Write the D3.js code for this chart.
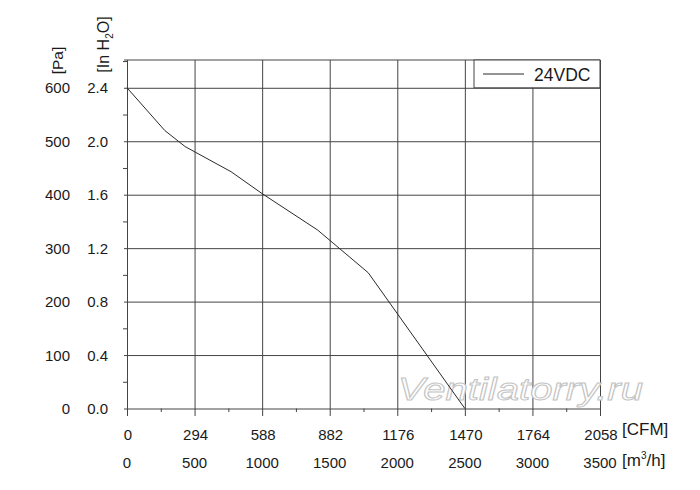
<!DOCTYPE html>
<html>
<head>
<meta charset="utf-8">
<script src="https://cdn.jsdelivr.net/npm/d3@7"></script>
<style>
  body { margin: 0; background: #fff; }
  text { font-family: "Liberation Sans", Arial, sans-serif; fill: #1a1a1a; }
</style>
</head>
<body>
<script>
// Fan curve data (flow in m3/h, static pressure in Pa)
const flow = [0, 280, 430, 770, 1000, 1410, 1785, 2500]
const pressure = [600, 520, 490, 443, 402, 334, 254, 0]
const seriesName = '24VDC'

// Tick labels
const m3hTicks = [0, 500, 1000, 1500, 2000, 2500, 3000, 3500]
const cfmLabels = ['0', '294', '588', '882', '1176', '1470', '1764', '2058']
const paTicks = [0, 100, 200, 300, 400, 500, 600]
const inLabels = ['0.0', '0.4', '0.8', '1.2', '1.6', '2.0', '2.4']

const width = 700
const height = 490
const plotLeft = 127, plotRight = 600, plotTop = 60, plotBottom = 408.5
const yMax = 652

const svg = d3.select('body').append('svg')
  .attr('width', width)
  .attr('height', height)

const x = d3.scaleLinear().domain([0, 3500]).range([plotLeft, plotRight])
const y = d3.scaleLinear().domain([0, yMax]).range([plotBottom, plotTop])

const gridColor = '#444'

// horizontal grid + left ticks
svg.append('g')
  .attr('transform', `translate(${plotLeft},0)`)
  .call(d3.axisLeft(y).tickValues(paTicks).tickSize(-(plotRight - plotLeft)).tickSizeOuter(0).tickFormat(''))
  .call(g => g.select('.domain').remove())
  .call(g => g.selectAll('.tick line').attr('stroke', gridColor).attr('x1', -3))

// minor left ticks
svg.append('g')
  .attr('transform', `translate(${plotLeft},0)`)
  .call(d3.axisLeft(y).tickValues(d3.range(50, 700, 100)).tickSize(4).tickFormat(''))
  .call(g => g.select('.domain').remove())
  .call(g => g.selectAll('.tick line').attr('stroke', gridColor))

// vertical grid + bottom ticks
svg.append('g')
  .attr('transform', `translate(0,${plotBottom})`)
  .call(d3.axisBottom(x).tickValues(m3hTicks).tickSize(-(plotBottom - plotTop)).tickFormat(''))
  .call(g => g.select('.domain').remove())
  .call(g => g.selectAll('.tick line').attr('stroke', gridColor).attr('y1', 7.5))

// minor bottom ticks
svg.append('g')
  .attr('transform', `translate(0,${plotBottom})`)
  .call(d3.axisBottom(x).tickValues(d3.range(250, 3500, 500)).tickSize(3.5).tickFormat(''))
  .call(g => g.select('.domain').remove())
  .call(g => g.selectAll('.tick line').attr('stroke', gridColor))

// frame top line
svg.append('line')
  .attr('x1', plotLeft - 3).attr('x2', plotRight)
  .attr('y1', y(yMax)).attr('y2', y(yMax))
  .attr('stroke', gridColor)

// watermark
svg.append('text')
  .attr('x', 398).attr('y', 400)
  .attr('textLength', 245)
  .attr('lengthAdjust', 'spacingAndGlyphs')
  .style('font-size', '31px')
  .style('font-style', 'italic')
  .style('fill', '#fff')
  .style('stroke', '#c4c4c4')
  .style('stroke-width', 1)
  .text('Ventilatorry.ru')

// curve
const pts = flow.map((f, i) => [f, pressure[i]])
svg.append('path')
  .datum(pts)
  .attr('fill', 'none')
  .attr('stroke', '#2a2a2a')
  .attr('stroke-width', 1)
  .attr('d', d3.line().x(d => x(d[0])).y(d => y(d[1])))

// legend
const lg = svg.append('g')
lg.append('rect')
  .attr('x', 474).attr('y', y(yMax))
  .attr('width', plotRight - 474).attr('height', y(600) - y(yMax))
  .attr('fill', '#fff').attr('stroke', gridColor)
lg.append('line')
  .attr('x1', 483).attr('x2', 524)
  .attr('y1', 74).attr('y2', 74)
  .attr('stroke', '#2a2a2a')
lg.append('text')
  .attr('x', 534).attr('y', 80.5)
  .style('font-size', '17.5px')
  .text(seriesName)

// left labels
svg.append('g').selectAll('text')
  .data(paTicks)
  .join('text')
  .attr('x', 70).attr('y', d => y(d) + 5.5)
  .attr('text-anchor', 'end')
  .style('font-size', '15px')
  .text(d => d)

svg.append('g').selectAll('text')
  .data(paTicks)
  .join('text')
  .attr('x', 108).attr('y', d => y(d) + 5.5)
  .attr('text-anchor', 'end')
  .style('font-size', '15px')
  .text((d, i) => inLabels[i])

// bottom labels
svg.append('g').selectAll('text')
  .data(m3hTicks)
  .join('text')
  .attr('x', d => x(d) + 1).attr('y', 439.5)
  .attr('text-anchor', 'middle')
  .style('font-size', '15px')
  .text((d, i) => cfmLabels[i])

svg.append('g').selectAll('text')
  .data(m3hTicks)
  .join('text')
  .attr('x', d => x(d)).attr('y', 467.5)
  .attr('text-anchor', 'middle')
  .style('font-size', '15px')
  .text(d => d)

// unit labels
svg.append('text')
  .attr('x', 622).attr('y', 435)
  .style('font-size', '17px')
  .text('[CFM]')

const m3 = svg.append('text')
  .attr('x', 622).attr('y', 466)
  .style('font-size', '17px')
m3.append('tspan').text('[m')
m3.append('tspan').attr('dy', -7).style('font-size', '10px').text('3')
m3.append('tspan').attr('dy', 7).text('/h]')

svg.append('text')
  .attr('transform', 'translate(63,60.5) rotate(-90)')
  .attr('text-anchor', 'middle')
  .style('font-size', '15.5px')
  .text('[Pa]')

const inh = svg.append('text')
  .attr('transform', 'translate(109,44.5) rotate(-90)')
  .attr('text-anchor', 'middle')
  .style('font-size', '16px')
inh.append('tspan').text('[In H')
inh.append('tspan').attr('dy', 4).style('font-size', '10px').text('2')
inh.append('tspan').attr('dy', -4).text('O]')
</script>
</body>
</html>
